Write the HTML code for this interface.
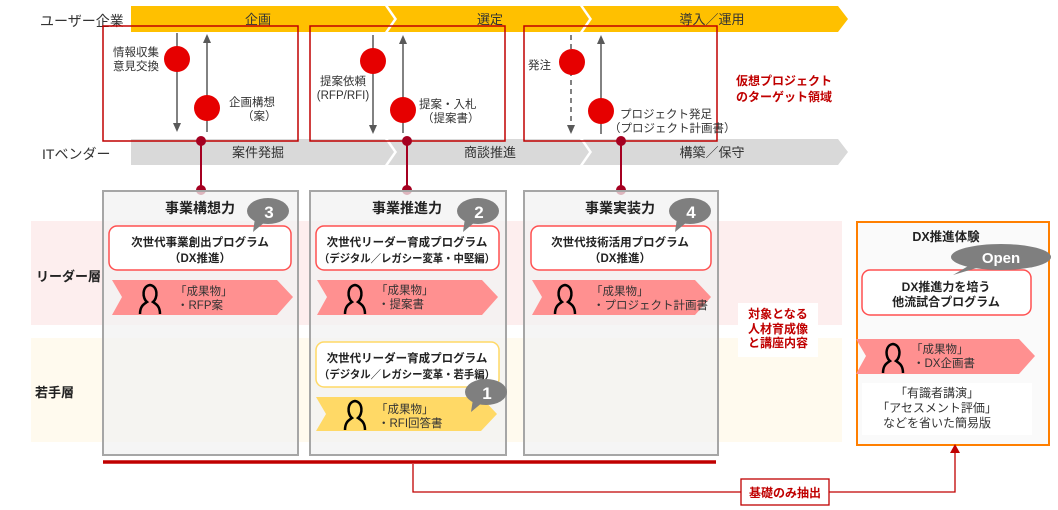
<!DOCTYPE html>
<html><head><meta charset="utf-8"><style>
body{margin:0;width:1058px;height:510px;background:#fff;overflow:hidden}
svg{display:block}
text{font-family:"Liberation Sans","Noto Sans CJK JP",sans-serif}
</style></head><body>
<svg width="1058" height="510" viewBox="0 0 1058 510">
<defs>
<g id="person"><path d="M-10,14 C-10,6 -6,4 -3,2 C-8,-2 -8,-14 0,-15 C8,-14 8,-2 3,2 C6,4 10,6 10,14" fill="none" stroke="#000" stroke-width="2.5"/></g>
</defs>
<!-- bands -->
<rect x="31" y="221" width="811" height="104" fill="#fdeeee"/>
<rect x="31" y="338" width="811" height="104" fill="#fffaee"/>
<!-- yellow bar -->
<path d="M131,6 H385 L394,19 L385,32 H131 Z" fill="#ffc000"/>
<path d="M388,6 H580 L589,19 L580,32 H388 L397,19 Z" fill="#ffc000"/>
<path d="M583,6 H838 L848,19 L838,32 H583 L592,19 Z" fill="#ffc000"/>
<text x="258" y="24" font-size="13" text-anchor="middle" fill="#333">企画</text>
<text x="490" y="24" font-size="13" text-anchor="middle" fill="#333">選定</text>
<text x="712" y="24" font-size="13" text-anchor="middle" fill="#333">導入／運用</text>
<!-- gray bar -->
<path d="M131,139 H385 L394,152 L385,165 H131 Z" fill="#d9d9d9"/>
<path d="M388,139 H580 L589,152 L580,165 H388 L397,152 Z" fill="#d9d9d9"/>
<path d="M583,139 H838 L848,152 L838,165 H583 L592,152 Z" fill="#d9d9d9"/>
<text x="258" y="157" font-size="13" text-anchor="middle" fill="#333">案件発掘</text>
<text x="490" y="157" font-size="13" text-anchor="middle" fill="#333">商談推進</text>
<text x="712" y="157" font-size="13" text-anchor="middle" fill="#333">構築／保守</text>
<text x="40" y="26" font-size="14" fill="#333">ユーザー企業</text>
<text x="42" y="159" font-size="14" fill="#333">ITベンダー</text>
<!-- red boxes -->
<rect x="103" y="26" width="195" height="115" fill="none" stroke="#c00000" stroke-width="1.5"/>
<rect x="310" y="26" width="195" height="115" fill="none" stroke="#c00000" stroke-width="1.5"/>
<rect x="524" y="26" width="193" height="115" fill="none" stroke="#c00000" stroke-width="1.5"/>
<!-- arrows -->
<g stroke="#595959" stroke-width="1.5">
<line x1="177" y1="33" x2="177" y2="124"/>
<line x1="207" y1="132" x2="207" y2="42"/>
<line x1="373" y1="35" x2="373" y2="126"/>
<line x1="403" y1="133" x2="403" y2="43"/>
<line x1="571" y1="35" x2="571" y2="126" stroke-dasharray="5,4"/>
<line x1="601" y1="134" x2="601" y2="43"/>
</g>
<g fill="#595959">
<path d="M173,123 H181 L177,132 Z"/>
<path d="M203,43 H211 L207,34 Z"/>
<path d="M369,125 H377 L373,134 Z"/>
<path d="M399,44 H407 L403,35 Z"/>
<path d="M567,125 H575 L571,134 Z"/>
<path d="M597,44 H605 L601,35 Z"/>
</g>
<g fill="#e60000">
<circle cx="177" cy="59" r="13"/><circle cx="207" cy="108" r="13"/>
<circle cx="373" cy="61" r="13"/><circle cx="403" cy="110" r="13"/>
<circle cx="572" cy="62" r="13"/><circle cx="601" cy="111" r="13"/>
</g>
<g font-size="11.5" fill="#333">
<text x="113" y="56">情報収集</text><text x="113" y="70">意見交換</text>
<text x="229" y="106">企画構想</text><text x="242" y="120">（案）</text>
<text x="343" y="85" text-anchor="middle">提案依頼</text><text x="343" y="99" text-anchor="middle">(RFP/RFI)</text>
<text x="419" y="108">提案・入札</text><text x="422" y="122">（提案書）</text>
<text x="528" y="69">発注</text>
<text x="620" y="118">プロジェクト発足</text><text x="609" y="132">（プロジェクト計画書）</text>
</g>
<g font-size="12" font-weight="bold" fill="#c00000">
<text x="784" y="85" text-anchor="middle">仮想プロジェクト</text>
<text x="784" y="101" text-anchor="middle">のターゲット領域</text>
</g>
<!-- connectors -->
<g stroke="#a50021" stroke-width="2" fill="#a50021">
<line x1="201" y1="141" x2="201" y2="190"/><circle cx="201" cy="141" r="4"/><circle cx="201" cy="190" r="4"/>
<line x1="407" y1="141" x2="407" y2="190"/><circle cx="407" cy="141" r="4"/><circle cx="407" cy="190" r="4"/>
<line x1="621" y1="141" x2="621" y2="190"/><circle cx="621" cy="141" r="4"/><circle cx="621" cy="190" r="4"/>
</g>
<!-- column panels -->
<g fill="#f2f2f2" fill-opacity="0.75" stroke="#a6a6a6" stroke-width="2">
<rect x="103" y="191" width="195" height="264"/>
<rect x="310" y="191" width="196" height="264"/>
<rect x="524" y="191" width="194" height="264"/>
</g>
<!-- orange box -->
<rect x="857" y="222" width="192" height="223" fill="#fafafa" stroke="#ff7f00" stroke-width="2"/>
<rect x="862" y="383" width="170" height="52" fill="#fff"/>
<g font-size="14" font-weight="bold" fill="#222" text-anchor="middle">
<text x="200" y="213">事業構想力</text>
<text x="407" y="213">事業推進力</text>
<text x="620" y="213">事業実装力</text>
</g>
<g font-size="13" font-weight="bold" fill="#222">
<text x="36" y="281">リーダー層</text>
<text x="35" y="397">若手層</text>
</g>
<!-- program boxes -->
<g fill="#fff" stroke="#ff5050" stroke-width="1.5">
<rect x="109" y="226" width="182" height="44" rx="8"/>
<rect x="316" y="226" width="183" height="44" rx="8"/>
<rect x="531" y="226" width="180" height="44" rx="8"/>
<rect x="862" y="270" width="169" height="45" rx="8"/>
</g>
<rect x="316" y="342" width="183" height="45" rx="8" fill="#fff" stroke="#ffd966" stroke-width="1.5"/>
<g font-size="11.5" font-weight="bold" fill="#222" text-anchor="middle">
<text x="200" y="246">次世代事業創出プログラム</text><text x="200" y="262">（DX推進）</text>
<text x="407" y="246">次世代リーダー育成プログラム</text><text x="407" y="262" font-size="11" textLength="176" lengthAdjust="spacingAndGlyphs">（デジタル／レガシー変革・中堅編）</text>
<text x="620" y="246">次世代技術活用プログラム</text><text x="620" y="262">（DX推進）</text>
<text x="407" y="362">次世代リーダー育成プログラム</text><text x="407" y="378" font-size="11" textLength="176" lengthAdjust="spacingAndGlyphs">（デジタル／レガシー変革・若手編）</text>
<text x="946" y="291" font-size="12">DX推進力を培う</text><text x="946" y="306" font-size="12">他流試合プログラム</text>
<text x="946" y="241" font-size="12.5">DX推進体験</text>
</g>
<!-- banners -->
<g fill="#ff9090">
<path d="M112,280 H277 L293,297 L277,315 H112 L122,297 Z"/>
<path d="M317,280 H482 L498,297 L482,315 H317 L327,297 Z"/>
<path d="M532,280 H695 L711,297 L695,315 H532 L542,297 Z"/>
<path d="M856,339 H1019 L1035,356 L1019,374 H856 L866,356 Z"/>
</g>
<path d="M316,397 H481 L497,414 L481,431 H316 L326,414 Z" fill="#ffd966"/>
<use href="#person" x="150" y="300"/>
<use href="#person" x="355" y="300"/>
<use href="#person" x="565" y="300"/>
<use href="#person" x="355" y="416"/>
<use href="#person" x="893" y="359"/>
<g font-size="11.5" fill="#333">
<text x="175" y="295">「成果物」</text><text x="177" y="309">・RFP案</text>
<text x="376" y="294">「成果物」</text><text x="378" y="308">・提案書</text>
<text x="591" y="295">「成果物」</text><text x="593" y="309">・プロジェクト計画書</text>
<text x="376" y="413">「成果物」</text><text x="378" y="427">・RFI回答書</text>
<text x="911" y="353">「成果物」</text><text x="913" y="367">・DX企画書</text>
</g>
<!-- bubbles -->
<g fill="#7f7f7f">
<ellipse cx="268" cy="211" rx="21" ry="13"/><path d="M255,218 L253,232 L265,222 Z"/>
<ellipse cx="478" cy="211" rx="21" ry="13"/><path d="M465,218 L463,232 L475,222 Z"/>
<ellipse cx="690" cy="211" rx="21" ry="13"/><path d="M677,218 L675,232 L687,222 Z"/>
<ellipse cx="486" cy="392" rx="21" ry="13"/><path d="M473,399 L471,412 L483,402 Z"/>
<ellipse cx="1001" cy="257" rx="50" ry="13"/><path d="M970,265 L953,275 L980,267 Z"/>
</g>
<g font-size="17" font-weight="bold" fill="#fff" text-anchor="middle">
<text x="269" y="218">3</text><text x="479" y="218">2</text><text x="691" y="218">4</text><text x="487" y="399">1</text>
<text x="1001" y="263" font-size="15">Open</text>
</g>
<!-- middle label -->
<rect x="738" y="303" width="80" height="54" fill="#fff"/>
<g font-size="12" font-weight="bold" fill="#c00000" text-anchor="middle">
<text x="778" y="318">対象となる</text><text x="778" y="333">人材育成像</text><text x="778" y="347">と講座内容</text>
</g>
<g font-size="12" fill="#333" text-anchor="middle">
<text x="937" y="397">「有識者講演」</text><text x="937" y="412">「アセスメント評価」</text><text x="937" y="427">などを省いた簡易版</text>
</g>
<!-- bottom -->
<line x1="103" y1="462" x2="716" y2="462" stroke="#c00000" stroke-width="3.5"/>
<polyline points="413,464 413,492 955,492 955,452" fill="none" stroke="#c00000" stroke-width="1.3"/>
<path d="M950,453 L955,444 L960,453 Z" fill="#c00000"/>
<rect x="741" y="479" width="88" height="26" fill="#fff" stroke="#c00000" stroke-width="1.3"/>
<text x="785" y="497" font-size="12" font-weight="bold" fill="#c00000" text-anchor="middle">基礎のみ抽出</text>
</svg>
</body></html>
